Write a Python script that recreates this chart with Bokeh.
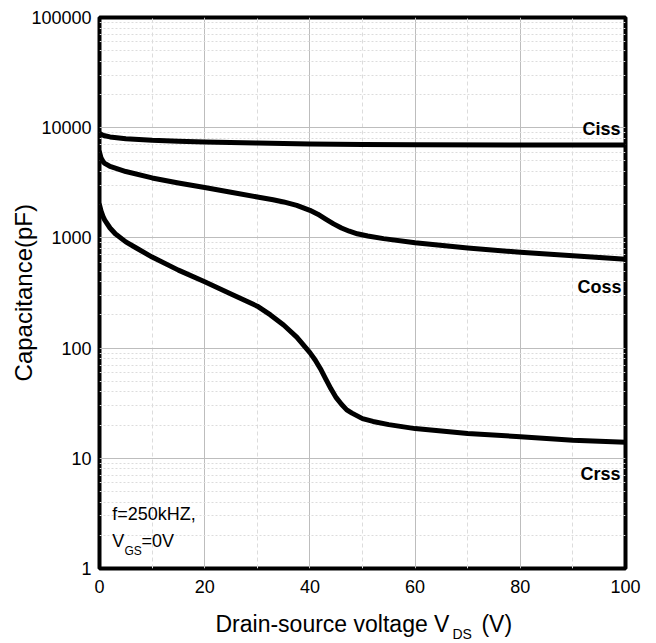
import math
from bokeh.plotting import figure
from bokeh.models import Range1d, FixedTicker, NumeralTickFormatter, Label
from bokeh.embed import file_html
from bokeh.resources import INLINE

# ---- data ----
ciss_v = [0, 0.5, 1, 2, 5, 10, 15, 20, 30, 40, 50, 60, 80, 100]
ciss_pf = [8900, 8600, 8450, 8250, 7950, 7700, 7550, 7420, 7250, 7130, 7050, 7000, 6970, 6950]

coss_v = [0, 0.3, 0.7, 1, 2, 5, 10, 15, 20, 25, 30, 33, 35, 37.5, 40, 41.5, 43, 44.5, 46, 47.5,
          49, 51, 54, 60, 70, 80, 90, 100]
coss_pf = [6000, 5300, 4900, 4750, 4450, 4000, 3500, 3150, 2870, 2600, 2350, 2220, 2120, 1970,
           1780, 1640, 1480, 1340, 1230, 1150, 1090, 1040, 985, 905, 810, 740, 690, 640]

crss_v = [0, 0.3, 0.7, 1, 2, 3, 5, 7, 10, 15, 20, 25, 30, 32.5, 35, 37.5, 40, 41, 42, 43, 44, 45,
          46, 47, 48, 50, 52, 55, 60, 70, 80, 90, 100]
crss_pf = [2000, 1750, 1550, 1450, 1230, 1090, 920, 810, 670, 510, 400, 310, 240, 200, 162, 126,
           91, 78, 65, 52.5, 42.7, 35.5, 30.9, 27.5, 25.7, 22.9, 21.6, 20.2, 18.6, 16.8, 15.7, 14.6, 14]

x_ticks = [0, 20, 40, 60, 80, 100]
x_minor = [10, 30, 50, 70, 90]
y_ticks = [1, 10, 100, 1000, 10000, 100000]

FONT = "Liberation Sans"

p = figure(width=656, height=643, y_axis_type="log",
           x_range=Range1d(0, 100), y_range=Range1d(1, 100000),
           output_backend="svg", toolbar_location=None,
           min_border_left=99, min_border_right=31, min_border_top=17, min_border_bottom=75)

p.background_fill_color = "white"
p.border_fill_color = "white"
p.outline_line_color = "black"
p.outline_line_width = 4

# ticks / grids
p.xaxis.ticker = FixedTicker(ticks=x_ticks, minor_ticks=x_minor)
y_minor = [k * 10 ** e for e in range(5) for k in range(2, 10)]
p.yaxis.ticker = FixedTicker(ticks=y_ticks, minor_ticks=y_minor)
p.yaxis.formatter = NumeralTickFormatter(format="0")

for ax in (p.xaxis, p.yaxis):
    ax.axis_line_color = None
    ax.major_tick_line_color = None
    ax.minor_tick_line_color = None
    ax.major_tick_out = 0
    ax.minor_tick_out = 0
    ax.major_tick_in = 0
    ax.minor_tick_in = 0
    ax.major_label_text_font = FONT
    ax.major_label_text_font_size = "18px"
    ax.major_label_text_color = "black"
p.yaxis.major_label_standoff = 8
p.xaxis.major_label_standoff = 11

p.xgrid.grid_line_color = "#bdbdbd"
p.xgrid.grid_line_width = 1
p.xgrid.minor_grid_line_color = "#dcdcdc"
p.xgrid.minor_grid_line_dash = "4 3"
p.ygrid.grid_line_color = "#bdbdbd"
p.ygrid.grid_line_width = 1
p.ygrid.minor_grid_line_color = "#dcdcdc"
p.ygrid.minor_grid_line_dash = "2 2"

# curves
for xs, ys in ((ciss_v, ciss_pf), (coss_v, coss_pf), (crss_v, crss_pf)):
    p.line(xs, ys, line_color="black", line_width=5, line_join="round", line_cap="round")

# helpers: pixel -> data for annotation placement
def dx(px):
    return (px - 99) / 5.26

def dy(py):
    return 10 ** (5 - (py - 17.3) / 110.2)

def lab(text, px, py, size, style="normal", align="left", angle=0, place="center"):
    shift = 0.34 * size  # compensate for rendered baseline offset
    if angle:
        px -= shift
    else:
        py -= shift
    l = Label(x=dx(px), y=dy(py), text=text, text_font=FONT, text_font_size=f"{size}px",
              text_font_style=style, text_align=align, text_baseline="alphabetic",
              text_color="black", angle=angle)
    if place == "center":
        p.add_layout(l)
    else:
        p.add_layout(l, place)

# curve names
lab("Ciss", 620, 135, 18, "bold", "right")
lab("Coss", 621, 293, 18, "bold", "right")
lab("Crss", 620, 480, 18, "bold", "right")

# conditions
lab("f=250kHZ,", 111.7, 520, 18)
lab("V", 111.7, 546.7, 18)
lab("GS", 124, 555, 12)
lab("=0V", 141, 546.7, 18)

# axis titles (in side panels so they are not clipped by the frame)
lab("Drain-source voltage V" + "\u00a0" * 5 + "(V)", 215, 631.7, 23, place="below")
lab("DS", 452, 638.5, 14, place="right")
lab("Capacitance(pF)", 31, 292.5, 24, align="center", angle=math.pi / 2, place="left")

open("out.html", "w").write(file_html(p, INLINE))
